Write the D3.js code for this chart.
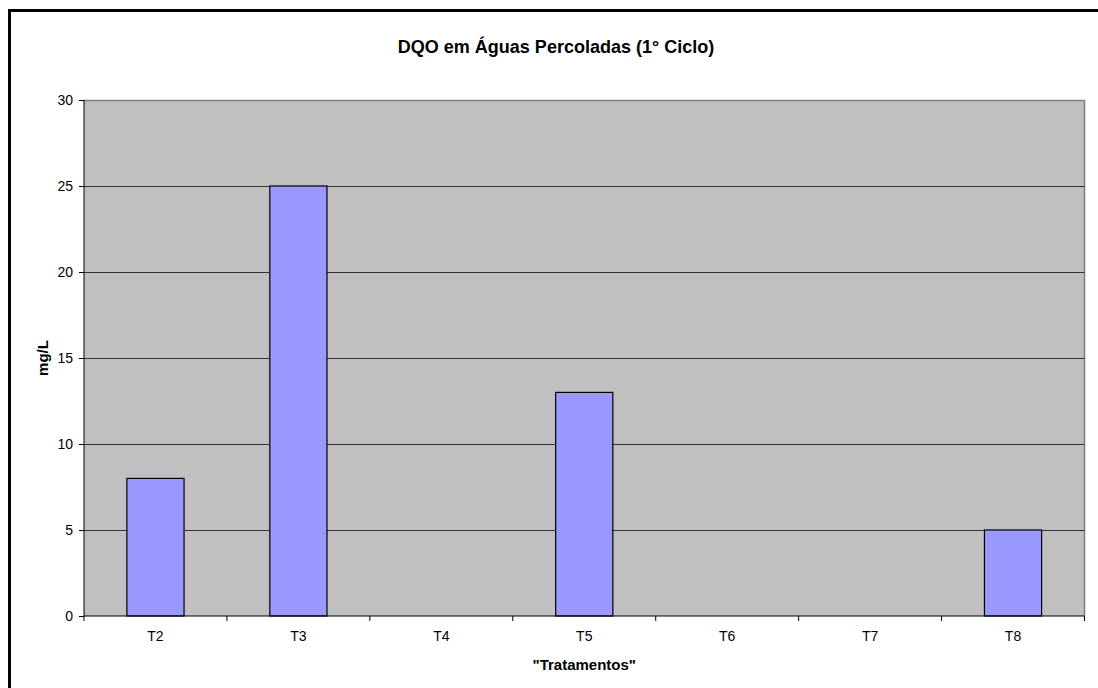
<!DOCTYPE html>
<html><head><meta charset="utf-8">
<script src="https://cdn.jsdelivr.net/npm/d3@7"></script>
<style>body{margin:0;background:#fff}svg{display:block}text{font-family:"Liberation Sans",Arial,sans-serif}</style>
</head><body>
<svg id="c" width="1098" height="688"></svg>
<script>
const categories = ["T2","T3","T4","T5","T6","T7","T8"];
const values = [8,25,null,13,null,null,5];
const yTicks = [0,5,10,15,20,25,30];
const title = "DQO em Águas Percoladas (1° Ciclo)";
const xTitle = "\"Tratamentos\"";
const yTitle = "mg/L";

const svg = d3.select("#c");
const L = 84, R = 1084.5, T = 100, B = 616;
// outer frame
svg.append("rect").attr("x",9.5).attr("y",10.5).attr("width",1200).attr("height",800)
  .attr("fill","none").attr("stroke","#000").attr("stroke-width",3);

const x = d3.scaleBand().domain(categories).range([L,R]).paddingInner(0).paddingOuter(0);
const y = d3.scaleLinear().domain([0,30]).range([B,T]);

svg.append("rect").attr("x",L).attr("y",T).attr("width",R-L).attr("height",B-T).attr("fill","#c0c0c0");
// plot border top/right gray
svg.append("path").attr("d",`M${L},${T+0.5}H${R}V${B}`).attr("fill","none").attr("stroke","#808080").attr("stroke-width",1.5);
// gridlines
svg.append("g").selectAll("line").data(yTicks.filter(d=>d>0 && d<30)).join("line")
  .attr("x1",L).attr("x2",R).attr("y1",d=>Math.round(y(d))+0.5).attr("y2",d=>Math.round(y(d))+0.5)
  .attr("stroke","#333").attr("stroke-width",1);

// bars
const bw = x.bandwidth()*0.4;
svg.append("g").selectAll("rect").data(categories.map((c,i)=>({c,v:values[i]})).filter(d=>d.v!=null)).join("rect")
  .attr("x",d=>x(d.c)+(x.bandwidth()-bw)/2).attr("width",bw)
  .attr("y",d=>y(d.v)).attr("height",d=>y(0)-y(d.v))
  .attr("fill","#9999ff").attr("stroke","#000").attr("stroke-width",1.2);

// y axis
const ya = svg.append("g").attr("transform",`translate(${L},0)`)
  .call(d3.axisLeft(y).tickValues(yTicks).tickSize(5).tickPadding(6));
ya.select(".domain").attr("stroke","#000").attr("d",`M0,${T}V${B}`);
ya.selectAll("text").attr("font-size",14).attr("fill","#000").attr("font-family","Liberation Sans, Arial, sans-serif");
ya.selectAll("line").attr("stroke","#000");

// x axis
const xa = svg.append("g").attr("transform",`translate(0,${B})`)
  .call(d3.axisBottom(x).tickSize(0).tickPadding(15));
xa.select(".domain").attr("stroke","#000").attr("d",`M${L},0H${R}`);
xa.selectAll("text").attr("font-size",14).attr("fill","#000").attr("font-family","Liberation Sans, Arial, sans-serif");
// boundary ticks
const bounds = categories.map(c=>x(c)).concat([R]);
xa.append("g").selectAll("line").data(bounds).join("line")
  .attr("x1",d=>d).attr("x2",d=>d).attr("y1",0).attr("y2",5).attr("stroke","#000");

svg.append("text").attr("x",556).attr("y",53).attr("text-anchor","middle")
  .attr("font-size",18).attr("font-weight","bold").text(title);
svg.append("text").attr("x",(L+R)/2).attr("y",670).attr("text-anchor","middle")
  .attr("font-size",15).attr("font-weight","bold").text(xTitle);
svg.append("text").attr("transform",`translate(48,358) rotate(-90)`).attr("text-anchor","middle")
  .attr("font-size",15).attr("font-weight","bold").text(yTitle);
</script>
</body></html>
